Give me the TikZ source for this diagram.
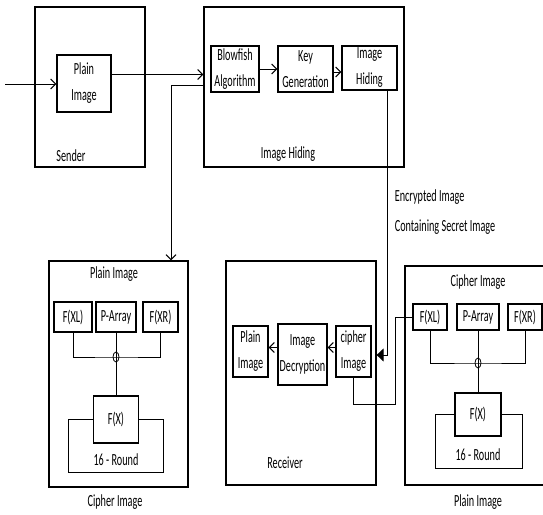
\documentclass[tikz,border=0pt]{standalone}
\usepackage{fontspec}
\setmainfont[FakeStretch=0.6]{Carlito}
\usepackage{tikz}
\usetikzlibrary{arrows.meta, shapes.geometric, positioning}

\begin{document}
\begin{tikzpicture}[
    x=1pt, y=-1pt,
    every node/.style={font=\fontsize{17}{26}\selectfont},
    outer/.style={rectangle, draw, line width=1.3pt, inner sep=0pt},
    block/.style={rectangle, draw, line width=1.2pt, inner sep=0pt, align=center},
    fbox/.style={rectangle, draw, line width=1.1pt, inner sep=0pt, minimum height=30pt},
    xor/.style={ellipse, draw, line width=0.8pt, minimum width=6pt, minimum height=10pt, inner sep=0pt},
    lbl/.style={inner sep=0pt},
    link/.style={line width=1pt},
    arrow/.style={-{Straight Barb[length=5pt, width=10pt]}, line width=1pt},
    farrow/.style={-{Triangle[length=7pt, width=13pt]}, line width=1pt}
]
\useasboundingbox (0,0) rectangle (543,514);
\clip (0,0) rectangle (543,514);

% Top row: sender and image hiding
\node[outer, minimum width=110pt, minimum height=160pt] at (90,87) (sender) {};
\node[outer, minimum width=200pt, minimum height=160pt] at (304,87) (hiding) {};
\node[block, minimum width=54pt, minimum height=57pt] at (84,83.5) (plainS) {Plain\\Image};
\node[block, minimum width=48pt, minimum height=46pt] at (235,69) (blowfish) {Blowfish\\Algorithm};
\node[block, minimum width=55pt, minimum height=46pt] at (305.5,69) (keygen) {Key\\Generation};
\node[block, minimum width=55pt, minimum height=44pt] at (369.5,68) (hide) {Image\\Hiding};
\node[lbl] at (71,156) (senderlbl) {Sender};
\node[lbl] at (288,154) (hidinglbl) {Image Hiding};

% Bottom left: blowfish rounds (encryption)
\node[outer, minimum width=139pt, minimum height=226pt] at (118.5,374) (encbox) {};
\node[lbl] at (114,274) (encin) {Plain Image};
\node[fbox, minimum width=38pt] at (73,317) (fxlL) {F(XL)};
\node[fbox, minimum width=40pt] at (116,317) (parrL) {P-Array};
\node[fbox, minimum width=35pt] at (160.5,317) (fxrL) {F(XR)};
\node[xor] at (parrL.south |- 0,357) (xorL) {};
\node[block, minimum width=45pt, minimum height=47pt] at (116,419.5) (fL) {F(X)};
\node[lbl] at (116,460) (roundL) {16 - Round};
\node[lbl] at (115,502) (encout) {Cipher Image};

% Bottom middle: receiver
\node[outer, minimum width=150pt, minimum height=224pt] at (301,373) (recv) {};
\node[block, minimum width=35pt, minimum height=51pt] at (250.5,351.5) (plainR) {Plain\\Image};
\node[block, minimum width=49pt, minimum height=61pt] at (302.5,354.5) (decrypt) {Image\\Decryption};
\node[block, minimum width=35pt, minimum height=51pt] at (353.5,351.5) (cipherR) {cipher\\Image};
\node[lbl] at (285,463) (recvlbl) {Receiver};

% Bottom right: blowfish rounds (decryption)
\node[outer, minimum width=155pt, minimum height=219pt] at (482.5,375.5) (decbox) {};
\node[lbl] at (478,282) (decin) {Cipher Image};
\node[fbox, minimum width=34pt, minimum height=26pt] at (430,317) (fxlR) {F(XL)};
\node[fbox, minimum width=42pt, minimum height=26pt] at (478,317) (parrR) {P-Array};
\node[fbox, minimum width=34pt, minimum height=26pt] at (525,317) (fxrR) {F(XR)};
\node[xor] at (parrR.south |- 0,363) (xorR) {};
\node[block, minimum width=46pt, minimum height=43pt] at (478,414.5) (fR) {F(X)};
\node[lbl] at (478,455) (roundR) {16 - Round};
\node[lbl] at (478,502) (decout) {Plain Image};

% Sender to image hiding
\coordinate (src) at (5,84);
\draw[arrow] (src) -- (src -| plainS.west);
\draw[arrow] ([yshift=9pt]plainS.east) -- ([yshift=9pt]plainS.east -| hiding.west);
\draw[arrow] (blowfish.east) -- (blowfish.east -| keygen.west);
\draw[arrow] ([yshift=-3pt]keygen.east) -- ([yshift=-3pt]keygen.east -| hide.west);

% Image hiding down to the encryption rounds
\draw[arrow] ([yshift=2pt]hiding.west) -| ([xshift=52.5pt]encbox.north);

% Hidden image to receiver
\draw[farrow] ([xshift=17.5pt]hide.south) |- node[pos=0.23, right=4pt, align=left, font=\fontsize{17}{30}\selectfont] {Encrypted Image\\Containing Secret Image} ([yshift=18pt]recv.east);
\draw[arrow] ([yshift=4pt]cipherR.west) -- ([yshift=4pt]cipherR.west -| decrypt.east);
\draw[arrow] ([yshift=4pt]decrypt.west |- cipherR.west) -- ([yshift=4pt]cipherR.west -| plainR.east);

% Decryption rounds back to cipher image
\coordinate (bend) at (395,404);
\draw[link] (fxlR.west) -| (bend) -| (cipherR.south);

% Round structure, left
\draw[link] (fxlL.south) |- (xorL.center) -| (fxrL.south);
\draw[link] (parrL.south) -- (parrL.south |- fL.north);
\draw[link] (fL.west) -- (fL.west -| 68,0) |- (163,472) |- (fL.east);

% Round structure, right
\draw[link] (fxlR.south) |- (xorR.center) -| (fxrR.south);
\draw[link] (parrR.south) -- (parrR.south |- fR.north);
\draw[link] (fR.west) -- (fR.west -| 435,0) |- (522,468) |- (fR.east);

\end{tikzpicture}
\end{document}
